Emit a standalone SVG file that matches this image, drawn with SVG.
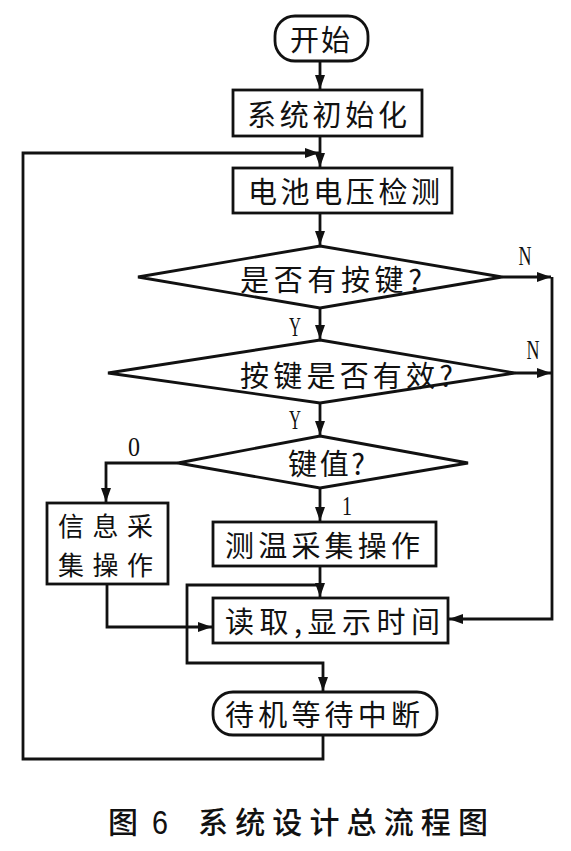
<svg xmlns="http://www.w3.org/2000/svg" width="571" height="851" viewBox="0 0 571 851">
<style>
.box{fill:#fff;stroke:#111;stroke-width:2.8}
.ln{fill:none;stroke:#111;stroke-width:2.8}
.t{font-family:"Noto Sans CJK SC","Noto Sans",sans-serif;font-size:29px;fill:#111;dominant-baseline:central}
.t2{font-family:"Noto Sans CJK SC","Noto Sans",sans-serif;font-size:26px;fill:#111;dominant-baseline:central}
.lb{font-family:"Liberation Serif",serif;font-size:28px;fill:#111;text-anchor:middle;dominant-baseline:central}
.cap{font-family:"Noto Sans CJK SC","Noto Sans",sans-serif;font-size:30px;font-weight:500;fill:#111;dominant-baseline:central}
</style>
<defs>
<marker id="ah" viewBox="0 0 14 10" refX="14" refY="5" markerWidth="14" markerHeight="10" markerUnits="userSpaceOnUse" orient="auto">
<path d="M0,0 L14,5 L0,10 z" fill="#111"/>
</marker>
</defs>
<rect width="571" height="851" fill="#fff"/>
<g id="connectors">
<path class="ln" d="M320,61 V89" marker-end="url(#ah)"/>
<path class="ln" d="M320,136 V167" marker-end="url(#ah)"/>
<path class="ln" d="M323,735 V759 H23 V153 H319" marker-end="url(#ah)"/>
<path class="ln" d="M320,213 V245" marker-end="url(#ah)"/>
<path class="ln" d="M502,277 H551" marker-end="url(#ah)"/>
<path class="ln" d="M552,277 V619 H449" marker-end="url(#ah)"/>
<path class="ln" d="M320,308 V339" marker-end="url(#ah)"/>
<path class="ln" d="M515,373 H551" marker-end="url(#ah)"/>
<path class="ln" d="M320,403 V435" marker-end="url(#ah)"/>
<path class="ln" d="M178,463 H106 V502" marker-end="url(#ah)"/>
<path class="ln" d="M320,488 V521" marker-end="url(#ah)"/>
<path class="ln" d="M320,566 V597" marker-end="url(#ah)"/>
<path class="ln" d="M107,584 V627 H212" marker-end="url(#ah)"/>
<path class="ln" d="M320,585 H187 V663 H323 V691" marker-end="url(#ah)"/>
<text class="lb" x="525" y="255" textLength="13" lengthAdjust="spacingAndGlyphs">N</text>
<text class="lb" x="533" y="349" textLength="13" lengthAdjust="spacingAndGlyphs">N</text>
<text class="lb" x="295" y="326" textLength="12" lengthAdjust="spacingAndGlyphs">Y</text>
<text class="lb" x="295" y="419" textLength="12" lengthAdjust="spacingAndGlyphs">Y</text>
<text class="lb" x="134" y="446" textLength="12" lengthAdjust="spacingAndGlyphs">0</text>
<text class="lb" x="347" y="505" textLength="10" lengthAdjust="spacingAndGlyphs">1</text>
</g>
<g id="start">
<rect class="box" x="275" y="16" width="93" height="45" rx="20"/>
<text class="t" x="290" y="38" textLength="60" lengthAdjust="spacing">开始</text>
</g>
<g id="init">
<rect class="box" x="233" y="90" width="189" height="46"/>
<text class="t" x="247" y="113" textLength="160" lengthAdjust="spacing">系统初始化</text>
</g>
<g id="battery">
<rect class="box" x="233" y="168" width="219" height="45"/>
<text class="t" x="248" y="190" textLength="192" lengthAdjust="spacing">电池电压检测</text>
</g>
<g id="haskey">
<polygon class="box" points="320,246 502,277 320,308 138,277"/>
<text class="t" x="240" y="278" textLength="182" lengthAdjust="spacing">是否有按键?</text>
</g>
<g id="keyvalid">
<polygon class="box" points="320,340 515,373 320,403 108,373"/>
<text class="t" x="240" y="374" textLength="213" lengthAdjust="spacing">按键是否有效?</text>
</g>
<g id="keyvalue">
<polygon class="box" points="320,436 468,463 320,488 178,463"/>
<text class="t" x="288" y="462" textLength="77" lengthAdjust="spacing">键值?</text>
</g>
<g id="info">
<rect class="box" x="47" y="503" width="121" height="81"/>
<text class="t2" x="58" y="524" textLength="95" lengthAdjust="spacing">信息采</text>
<text class="t2" x="58" y="563" textLength="95" lengthAdjust="spacing">集操作</text>
</g>
<g id="temp">
<rect class="box" x="213" y="522" width="223" height="44"/>
<text class="t" x="225" y="544" textLength="195" lengthAdjust="spacing">测温采集操作</text>
</g>
<g id="readtime">
<rect class="box" x="213" y="598" width="235" height="45"/>
<text class="t" x="225" y="620" textLength="215" lengthAdjust="spacing">读取,显示时间</text>
</g>
<g id="standby">
<rect class="box" x="213" y="692" width="224" height="43" rx="20"/>
<text class="t" x="225" y="713" textLength="195" lengthAdjust="spacing">待机等待中断</text>
</g>
<g id="caption">
<text class="cap" x="108" y="820">图</text>
<text class="cap" x="152" y="822" textLength="16" lengthAdjust="spacingAndGlyphs" style="font-family:'Liberation Sans',sans-serif;font-size:34px">6</text>
<text class="cap" x="198" y="820" textLength="290" lengthAdjust="spacing">系统设计总流程图</text>
</g>
</svg>
